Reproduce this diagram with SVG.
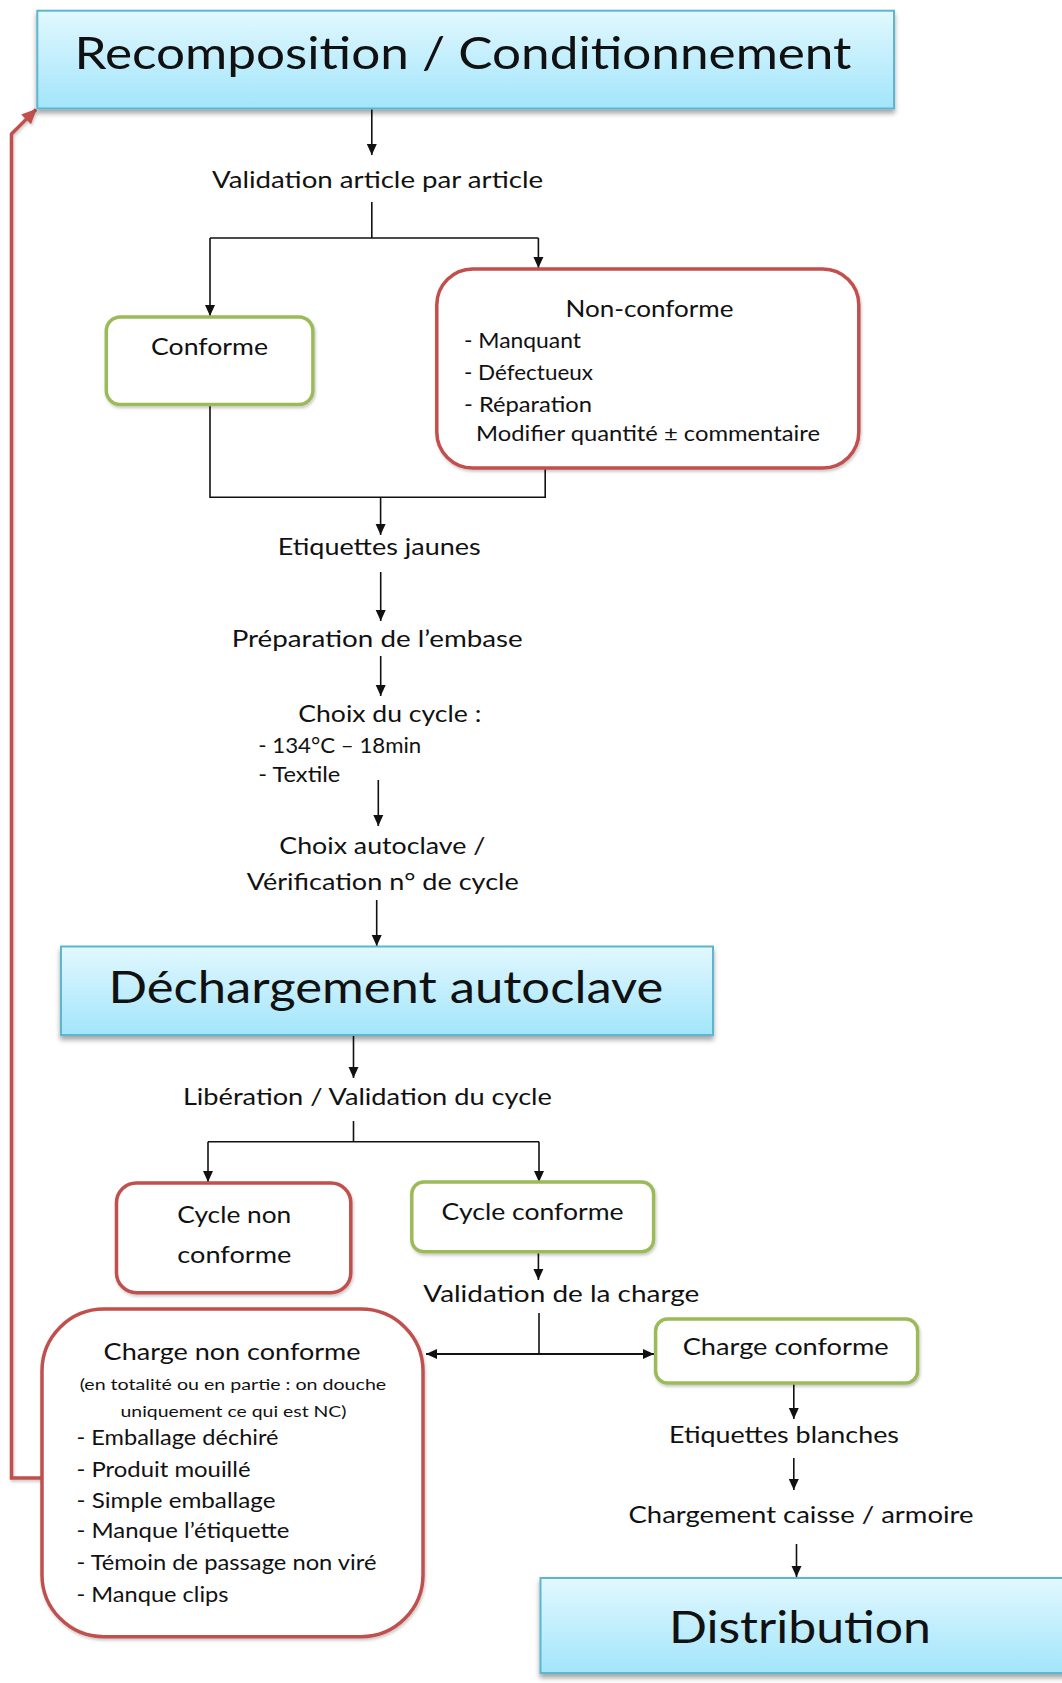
<svg xmlns="http://www.w3.org/2000/svg" width="1062" height="1683" viewBox="0 0 1062 1683">
  <style>
    text { font-family: Lato, "Open Sans", "Liberation Sans", sans-serif; fill: #111; }
    .title { font-size: 45px; }
    .lbl { font-size: 23px; }
    .item { font-size: 22px; }
    .small { font-size: 16px; }
    .mid { text-anchor: middle; }
    .stage { fill: url(#stageFill); stroke: #5db6cf; stroke-width: 2; filter: url(#shadow); }
    .ok { fill: #fff; stroke: #9bbb59; stroke-width: 3.5; filter: url(#softShadow); }
    .nok { fill: #fff; stroke: #c0504d; stroke-width: 3.5; filter: url(#softShadow); }
    .link { fill: none; stroke: #111; stroke-width: 1.6; }
    .back { fill: none; stroke: #c0504d; stroke-width: 3.5; filter: url(#softShadow); }
  </style>
  <defs>
    <linearGradient id="stageFill" x1="0" y1="0" x2="0" y2="1">
      <stop offset="0" stop-color="#e2f8fe"/>
      <stop offset="1" stop-color="#a2e5fb"/>
    </linearGradient>
    <filter id="shadow" x="-5%" y="-10%" width="110%" height="130%">
      <feDropShadow dx="0" dy="4" stdDeviation="2.5" flood-color="#000" flood-opacity="0.35"/>
    </filter>
    <filter id="softShadow" x="-5%" y="-5%" width="110%" height="115%">
      <feDropShadow dx="1" dy="2" stdDeviation="1.5" flood-color="#000" flood-opacity="0.22"/>
    </filter>
    <marker id="arrow" markerUnits="userSpaceOnUse" markerWidth="12" markerHeight="12" viewBox="0 0 12 12" refX="11" refY="6" orient="auto-start-reverse">
      <path d="M0,1 L11,6 L0,11 Z" fill="#111"/>
    </marker>
    <marker id="redArrow" markerUnits="userSpaceOnUse" markerWidth="16" markerHeight="16" viewBox="0 0 16 16" refX="14" refY="8" orient="auto">
      <path d="M0,1 L15,8 L0,15 Z" fill="#c0504d"/>
    </marker>
  </defs>

  <!-- connectors -->
  <g id="connectors">
    <path class="link" d="M371.8,109 V155" marker-end="url(#arrow)"/>
    <path class="link" d="M371.8,202 V238 M210,238 H538.4"/>
    <path class="link" d="M210,238 V316" marker-end="url(#arrow)"/>
    <path class="link" d="M538.4,238 V268" marker-end="url(#arrow)"/>
    <path class="link" d="M210,405 V497.3 H545.2 V468"/>
    <path class="link" d="M380.6,497.3 V535" marker-end="url(#arrow)"/>
    <path class="link" d="M380.7,572 V621" marker-end="url(#arrow)"/>
    <path class="link" d="M380.7,656 V696" marker-end="url(#arrow)"/>
    <path class="link" d="M378.3,780 V826" marker-end="url(#arrow)"/>
    <path class="link" d="M376.7,900 V946" marker-end="url(#arrow)"/>
    <path class="link" d="M353.5,1036 V1078" marker-end="url(#arrow)"/>
    <path class="link" d="M353.5,1121 V1141.7 M208,1141.7 H539"/>
    <path class="link" d="M208,1141.7 V1182" marker-end="url(#arrow)"/>
    <path class="link" d="M539,1141.7 V1182" marker-end="url(#arrow)"/>
    <path class="link" d="M538.4,1252 V1280" marker-end="url(#arrow)"/>
    <path class="link" d="M539,1313 V1354"/>
    <path class="link" style="stroke-width:2.2" d="M426,1354 H654" marker-start="url(#arrow)" marker-end="url(#arrow)"/>
    <path class="link" d="M793.8,1384 V1419" marker-end="url(#arrow)"/>
    <path class="link" d="M793.8,1458 V1490" marker-end="url(#arrow)"/>
    <path class="link" d="M796.5,1544 V1577" marker-end="url(#arrow)"/>
    <!-- return loop to the first stage -->
    <path class="back" d="M42,1478 H11.5 V134 L36,109.5" marker-end="url(#redArrow)"/>
    <path class="back" d="M116.5,1234 H11.5"/>
  </g>

  <!-- stages -->
  <g id="stage-recomposition">
    <rect class="stage" x="37.3" y="10.7" width="856.7" height="97.8"/>
    <text class="title" x="74.5" y="69.3" textLength="777" lengthAdjust="spacingAndGlyphs">Recomposition / Conditionnement</text>
  </g>

  <g id="step-validation-article">
    <text class="lbl" x="212" y="188" textLength="331" lengthAdjust="spacingAndGlyphs">Validation article par article</text>
  </g>

  <g id="node-conforme">
    <rect class="ok" x="106.3" y="317" width="206.6" height="87.5" rx="14"/>
    <text class="lbl" x="151" y="355" textLength="117" lengthAdjust="spacingAndGlyphs">Conforme</text>
  </g>

  <g id="node-non-conforme">
    <rect class="nok" x="436.8" y="269" width="422" height="199" rx="36"/>
    <text class="lbl" x="565.5" y="317" textLength="168" lengthAdjust="spacingAndGlyphs">Non-conforme</text>
    <text class="item" x="464" y="348" textLength="117" lengthAdjust="spacingAndGlyphs">- Manquant</text>
    <text class="item" x="464" y="380" textLength="129" lengthAdjust="spacingAndGlyphs">- Défectueux</text>
    <text class="item" x="464" y="411.7" textLength="128" lengthAdjust="spacingAndGlyphs">- Réparation</text>
    <text class="item" x="476" y="441" textLength="344" lengthAdjust="spacingAndGlyphs">Modifier quantité ± commentaire</text>
  </g>

  <g id="step-etiquettes-jaunes">
    <text class="lbl" x="277.7" y="555" textLength="203" lengthAdjust="spacingAndGlyphs">Etiquettes jaunes</text>
  </g>

  <g id="step-embase">
    <text class="lbl" x="231.7" y="647" textLength="291" lengthAdjust="spacingAndGlyphs">Préparation de l’embase</text>
  </g>

  <g id="step-choix-cycle">
    <text class="lbl" x="298.3" y="722" textLength="183" lengthAdjust="spacingAndGlyphs">Choix du cycle :</text>
    <text class="item" x="258.3" y="753" textLength="163" lengthAdjust="spacingAndGlyphs">- 134°C – 18min</text>
    <text class="item" x="258.3" y="782" textLength="82" lengthAdjust="spacingAndGlyphs">- Textile</text>
  </g>

  <g id="step-choix-autoclave">
    <text class="lbl" x="279.3" y="854" textLength="206" lengthAdjust="spacingAndGlyphs">Choix autoclave /</text>
    <text class="lbl" x="246.7" y="890" textLength="272" lengthAdjust="spacingAndGlyphs">Vérification n° de cycle</text>
  </g>

  <g id="stage-dechargement">
    <rect class="stage" x="61" y="946.5" width="652" height="88.5"/>
    <text class="title" x="108.4" y="1003" textLength="555" lengthAdjust="spacingAndGlyphs">Déchargement autoclave</text>
  </g>

  <g id="step-liberation">
    <text class="lbl" x="182.9" y="1105" textLength="369" lengthAdjust="spacingAndGlyphs">Libération / Validation du cycle</text>
  </g>

  <g id="node-cycle-non-conforme">
    <rect class="nok" x="116.5" y="1183" width="234.3" height="109.7" rx="20"/>
    <text class="lbl" x="177.3" y="1223" textLength="114" lengthAdjust="spacingAndGlyphs">Cycle non</text>
    <text class="lbl" x="177.3" y="1263" textLength="114" lengthAdjust="spacingAndGlyphs">conforme</text>
  </g>

  <g id="node-cycle-conforme">
    <rect class="ok" x="411.8" y="1182" width="241.8" height="69.7" rx="12"/>
    <text class="lbl" x="441.6" y="1220" textLength="182" lengthAdjust="spacingAndGlyphs">Cycle conforme</text>
  </g>

  <g id="step-validation-charge">
    <text class="lbl" x="423.3" y="1302" textLength="276" lengthAdjust="spacingAndGlyphs">Validation de la charge</text>
  </g>

  <g id="node-charge-non-conforme">
    <rect class="nok" x="42" y="1309" width="381" height="327.7" rx="62"/>
    <text class="lbl" x="103.6" y="1360" textLength="257" lengthAdjust="spacingAndGlyphs">Charge non conforme</text>
    <text class="small" x="79.7" y="1390" textLength="306.5" lengthAdjust="spacingAndGlyphs">(en totalité ou en partie : on douche</text>
    <text class="small" x="120.5" y="1417" textLength="226" lengthAdjust="spacingAndGlyphs">uniquement  ce qui est NC)</text>
    <text class="item" x="76.5" y="1445" textLength="202" lengthAdjust="spacingAndGlyphs">- Emballage déchiré</text>
    <text class="item" x="76.5" y="1477" textLength="174" lengthAdjust="spacingAndGlyphs">- Produit mouillé</text>
    <text class="item" x="76.5" y="1508" textLength="199" lengthAdjust="spacingAndGlyphs">- Simple emballage</text>
    <text class="item" x="76.5" y="1538" textLength="213" lengthAdjust="spacingAndGlyphs">- Manque l’étiquette</text>
    <text class="item" x="76.5" y="1570" textLength="300" lengthAdjust="spacingAndGlyphs">- Témoin de passage non viré</text>
    <text class="item" x="76.5" y="1602" textLength="152" lengthAdjust="spacingAndGlyphs">- Manque clips</text>
  </g>

  <g id="node-charge-conforme">
    <rect class="ok" x="655.6" y="1319" width="262" height="64" rx="12"/>
    <text class="lbl" x="682.7" y="1355" textLength="206" lengthAdjust="spacingAndGlyphs">Charge conforme</text>
  </g>

  <g id="step-etiquettes-blanches">
    <text class="lbl" x="669" y="1443" textLength="230" lengthAdjust="spacingAndGlyphs">Etiquettes blanches</text>
  </g>

  <g id="step-chargement">
    <text class="lbl" x="628.5" y="1523" textLength="345" lengthAdjust="spacingAndGlyphs">Chargement caisse / armoire</text>
  </g>

  <g id="stage-distribution">
    <rect class="stage" x="540.5" y="1578" width="530" height="95"/>
    <text class="title" x="669" y="1643" textLength="262" lengthAdjust="spacingAndGlyphs">Distribution</text>
  </g>
</svg>
